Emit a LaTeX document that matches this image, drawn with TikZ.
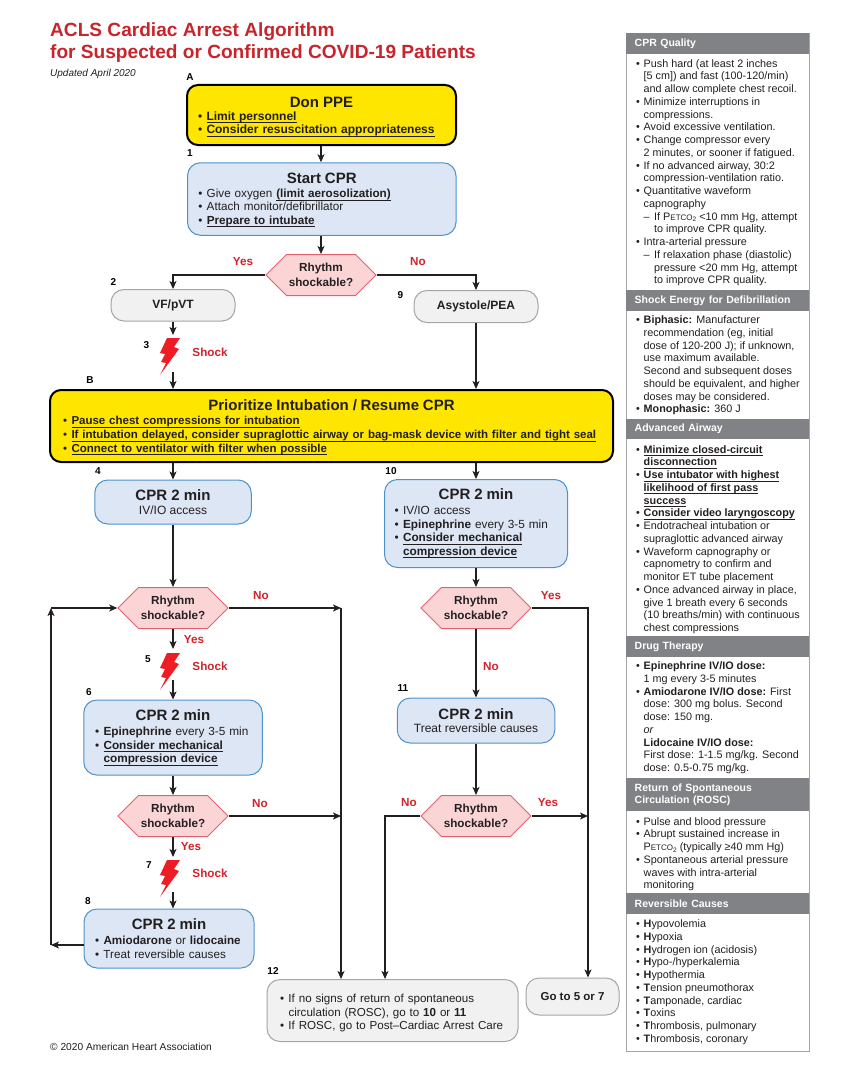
\documentclass[tikz,border=0pt]{standalone}
\usepackage{fontspec}
\setmainfont{Liberation Sans}
\usetikzlibrary{shapes.symbols,arrows.meta}
\definecolor{ink}{HTML}{231F20}
\definecolor{redtxt}{HTML}{D2232A}
\definecolor{ttl}{HTML}{C8242B}
\definecolor{yel}{HTML}{FFE600}
\definecolor{bluef}{HTML}{DCE6F4}
\definecolor{blueb}{HTML}{4F92C9}
\definecolor{pinkf}{HTML}{FBD5D6}
\definecolor{pinkb}{HTML}{E2606F}
\definecolor{grayf}{HTML}{F1F1F1}
\definecolor{grayb}{HTML}{A3A5A7}
\definecolor{sideh}{HTML}{808285}
\definecolor{bolt}{HTML}{EE1C25}
\newcommand{\blt}{\makebox[8.5pt][l]{•}}
\newcommand{\bltw}{\makebox[7.5pt][l]{•}}
\newcommand{\hng}{\hspace*{7.5pt}}
\newcommand{\hngb}{\hspace*{8.5pt}}
\newcommand{\hngc}{\hspace*{18pt}}
\newcommand{\dsh}{\makebox[10.5pt][l]{–}}
\newcommand{\ul}[1]{\leavevmode\setbox0\hbox{\textbf{#1}}\rlap{\raisebox{-2.6pt}{\rule{\wd0}{0.6pt}}}\box0}
\newcommand{\ttlline}[3]{\makebox[#1][c]{\rule{0pt}{#2}\fontsize{15}{17}\selectfont\bfseries #3}}
\newcommand{\petco}{P{\fontsize{8}{8}\selectfont ETCO}\raisebox{-1.5pt}{\fontsize{6.5}{6.5}\selectfont 2}}
\newcommand{\boltshape}[2]{\fill[bolt] (#1+7,#2) -- (#1-6,#2) -- (#1-13,#2+15) -- (#1-8,#2+16) -- (#1-12,#2+24) -- (#1-7,#2+25) -- (#1-13,#2+37) -- (#1+6,#2+11) -- (#1+1,#2+9) -- cycle;}
\tikzset{
  x=1pt,y=-1pt,
  box/.style={rounded corners=13pt,minimum width=#1,inner sep=0pt,text=ink},
  yelbox/.style={box=#1,draw=black,line width=2pt,fill=yel,rounded corners=11pt},
  bluebox/.style={box=#1,draw=blueb,line width=1pt,fill=bluef},
  graybox/.style={box=#1,draw=grayb,line width=1pt,fill=grayf},
  hex/.style={signal,signal to=west and east,signal pointer angle=90,minimum width=110pt,minimum height=41pt,inner sep=0pt,draw=pinkb,line width=1pt,fill=pinkf,align=center,text=ink,font=\fontsize{11.7}{15.5}\selectfont\bfseries},
  tag/.style={font=\fontsize{10}{12}\selectfont\bfseries,text=black,inner sep=0pt},
  rlab/.style={font=\fontsize{11.7}{12}\selectfont\bfseries,text=redtxt,inner sep=0pt},
  conn/.style={draw=ink,line width=1.2pt,-{Stealth[length=8pt,width=7pt,inset=2pt]}},
  ttlf/.style={font=\fontsize{19.1}{22}\selectfont\bfseries,text=ttl,inner sep=0pt,anchor=west},
  sideh/.style={fill=sideh,draw=none,minimum width=183pt,inner sep=0pt,anchor=north west,text=white,font=\fontsize{10.5}{12.8}\selectfont\bfseries,align=left,text width=166pt,inner xsep=8.5pt},
  sidet/.style={inner sep=0pt,anchor=north west,align=left,text=ink,font=\fontsize{10.8}{12.75}\selectfont},
}
\begin{document}
\begin{tikzpicture}
\useasboundingbox (0,0) rectangle (846,1070);
\node[ttlf] (t1) at (50,31.5) {ACLS Cardiac Arrest Algorithm};
\node[ttlf] (t2) at (50,53.5) {for Suspected or Confirmed COVID-19 Patients};
\node[inner sep=0pt,anchor=west,text=ink,font=\fontsize{10}{11}\selectfont\itshape] (upd) at (50,73.5) {Updated April 2020};
\node[inner sep=0pt,anchor=west,text=ink,font=\fontsize{10.2}{11}\selectfont] (copy) at (50,1047) {© 2020 American Heart Association};

% boxes
\node[yelbox=269pt,minimum height=60pt,align=left,text width=247pt,font=\fontsize{12}{13.5}\selectfont] (ppe) at (321.5,115) {\ttlline{247pt}{14pt}{Don PPE}\\[-1pt]\blt\ul{Limit personnel}\\\blt\ul{Consider resuscitation appropriateness}};
\node[bluebox=268.5pt,minimum height=72.5pt,align=left,text width=247pt,font=\fontsize{11.7}{13.2}\selectfont] (cpr1) at (321.75,199) {\ttlline{247pt}{12pt}{Start CPR}\\[1pt]\blt Give oxygen \ul{(limit aerosolization)}\\\blt Attach monitor/defibrillator\\\blt\ul{Prepare to intubate}};
\node[hex] (h1) at (321,275) {Rhythm\\shockable?};
\node[graybox=124pt,minimum height=31.5pt,font=\fontsize{12}{13}\selectfont\bfseries] (vf) at (173,305.25) {VF/pVT};
\node[graybox=124pt,minimum height=32pt,font=\fontsize{12}{13}\selectfont\bfseries] (asy) at (476,306.5) {Asystole/PEA};
\node[yelbox=563pt,minimum height=72pt,align=left,text width=537pt,font=\fontsize{11.5}{13.6}\selectfont] (prio) at (331.5,426) {\ttlline{537pt}{13pt}{Prioritize Intubation / Resume CPR}\\[1pt]\blt\ul{Pause chest compressions for intubation}\\\blt\ul{If intubation delayed, consider supraglottic airway or bag-mask device with filter and tight seal}\\\blt\ul{Connect to ventilator with filter when possible}};
\node[bluebox=156.5pt,minimum height=44pt,align=center,font=\fontsize{12}{13.5}\selectfont] (c4) at (173,502) {{\fontsize{15}{17}\selectfont\bfseries CPR 2 min}\\IV/IO access};
\node[bluebox=183pt,minimum height=88pt,align=left,text width=163pt,font=\fontsize{11.8}{13.6}\selectfont] (c10) at (476,523.5) {\ttlline{163pt}{10pt}{CPR 2 min}\\[1pt]\blt IV/IO access\\\blt\textbf{Epinephrine} every 3-5 min\\\blt\ul{Consider mechanical}\\\hngb\ul{compression device}};
\node[hex] (h2) at (173,608) {Rhythm\\shockable?};
\node[hex] (h3) at (476,608) {Rhythm\\shockable?};
\node[bluebox=178.5pt,minimum height=75pt,align=left,text width=156pt,font=\fontsize{11.8}{13.6}\selectfont] (c6) at (173,737.5) {\ttlline{156pt}{11pt}{CPR 2 min}\\[1pt]\blt\textbf{Epinephrine} every 3-5 min\\\blt\ul{Consider mechanical}\\\hngb\ul{compression device}};
\node[bluebox=157.5pt,minimum height=45pt,align=center,font=\fontsize{12}{13.5}\selectfont] (c11) at (476,720.5) {{\fontsize{15}{17}\selectfont\bfseries CPR 2 min}\\Treat reversible causes};
\node[hex] (h4) at (173,816) {Rhythm\\shockable?};
\node[hex] (h5) at (476,816) {Rhythm\\shockable?};
\node[bluebox=170pt,minimum height=59pt,align=left,text width=148pt,font=\fontsize{11.7}{13.6}\selectfont] (c8) at (169,938.5) {\ttlline{148pt}{11pt}{CPR 2 min}\\[1pt]\blt\textbf{Amiodarone} or \textbf{lidocaine}\\\blt Treat reversible causes};
\node[graybox=251pt,minimum height=62pt,align=left,text width=225pt,font=\fontsize{11.6}{13.6}\selectfont] (end) at (392.5,1010.5) {\rule{0pt}{14pt}\blt If no signs of return of spontaneous\\\hngb circulation (ROSC), go to \textbf{10} or \textbf{11}\\\blt If ROSC, go to Post–Cardiac Arrest Care};
\node[graybox=93pt,minimum height=37pt,font=\fontsize{11.5}{13}\selectfont\bfseries] (goto) at (572.5,996.5) {Go to 5 or 7};

% bolts
\boltshape{173}{338}
\boltshape{173}{653}
\boltshape{173}{860}

% free ends
\coordinate (s3a) at (173,335); \coordinate (s3b) at (173,372);
\coordinate (s5a) at (173,649); \coordinate (s5b) at (173,680);
\coordinate (s7a) at (173,857); \coordinate (s7b) at (173,892);
\coordinate (y1) at (173,275); \coordinate (n1) at (476,275);
\coordinate (lp1) at (51,945); \coordinate (lp2) at (51,608);
\coordinate (r1) at (341,608); \coordinate (r2) at (341,816);
\coordinate (r3) at (588,608); \coordinate (r4) at (588,816);
\coordinate (l5) at (385,816);

% connectors
\draw[conn] (ppe.south -| h1.north) -- (cpr1.north -| h1.north);
\draw[conn] (cpr1.south -| h1.north) -- (h1.north);
\draw[conn] (h1.west) -- (y1) -- (vf.north);
\draw[conn] (h1.east) -- (n1) -- (asy.north);
\draw[conn] (vf.south) -- (s3a);
\draw[conn] (s3b) -- (s3b |- prio.north);
\draw[conn] (asy.south) -- (asy.south |- prio.north);
\draw[conn] (c4.north |- prio.south) -- (c4.north);
\draw[conn] (c10.north |- prio.south) -- (c10.north);
\draw[conn] (c4.south) -- (h2.north);
\draw[conn] (c10.south) -- (h3.north);
\draw[conn] (h2.south) -- (s5a);
\draw[conn] (s5b) -- (c6.north);
\draw[conn] (c6.south) -- (h4.north);
\draw[conn] (h4.south) -- (s7a);
\draw[conn] (s7b) -- (s7b |- c8.north);
\draw[conn] (h3.south) -- (c11.north);
\draw[conn] (c11.south) -- (h5.north);
\draw[conn] (h2.east) -- (r1);
\draw[conn] (h4.east) -- (r2);
\draw[conn] (r1) -- (r1 |- end.north);
\draw[conn] (h3.east) -- (r3) -- (r3 |- goto.north);
\draw[conn] (h5.east) -- (r4);
\draw[conn] (h5.west) -- (l5) -- (l5 |- end.north);
\draw[conn] (c8.west |- lp1) -- (lp1);
\draw[conn] (lp1) -- (lp2);
\draw[conn] (lp2) -- (h2.west);

% tags
\node[tag] (la) at (190,77) {A};
\node[tag] (l1) at (190,153) {1};
\node[tag] (l2) at (113.5,282) {2};
\node[tag] (l3) at (146.5,345) {3};
\node[tag] (l9) at (400.5,295) {9};
\node[tag] (lb) at (90,380) {B};
\node[tag] (l4) at (98,471) {4};
\node[tag] (l10) at (391,471) {10};
\node[tag] (l5t) at (148,659) {5};
\node[tag] (l6) at (89,692) {6};
\node[tag] (l7) at (149,865) {7};
\node[tag] (l8) at (88,901) {8};
\node[tag] (l11) at (403,688) {11};
\node[tag] (l12) at (273,971) {12};

% red labels
\node[rlab] (a1) at (243,262) {Yes};
\node[rlab] (a2) at (418,262) {No};
\node[rlab] (a3) at (210,352) {Shock};
\node[rlab] (a4) at (261,596) {No};
\node[rlab] (a5) at (551,596) {Yes};
\node[rlab] (a6) at (194,640) {Yes};
\node[rlab] (a7) at (210,666) {Shock};
\node[rlab] (a8) at (491,667) {No};
\node[rlab] (a9) at (260,804) {No};
\node[rlab] (a10) at (409,803) {No};
\node[rlab] (a11) at (548,803) {Yes};
\node[rlab] (a12) at (191,847) {Yes};
\node[rlab] (a13) at (210,873) {Shock};

% sidebar
\node[draw=grayb,line width=1pt,fill=white,minimum width=183pt,minimum height=1017.5pt,anchor=north west,inner sep=0pt] (panel) at (626,33) {};
\node[sideh,minimum height=20.5pt] (hA) at (626,33) {CPR Quality};
\node[sidet] (bA) at (636,59) {\bltw Push hard (at least 2 inches\\\hng{}[5 cm]) and fast (100-120/min)\\\hng and allow complete chest recoil.\\\bltw Minimize interruptions in\\\hng compressions.\\\bltw Avoid excessive ventilation.\\\bltw Change compressor every\\\hng 2 minutes, or sooner if fatigued.\\\bltw If no advanced airway, 30:2\\\hng compression-ventilation ratio.\\\bltw Quantitative waveform\\\hng capnography\\\hng\dsh If \petco{} <10 mm Hg, attempt\\\hngc to improve CPR quality.\\\bltw Intra-arterial pressure\\\hng\dsh If relaxation phase (diastolic)\\\hngc pressure <20 mm Hg, attempt\\\hngc to improve CPR quality.};
\node[sideh,minimum height=20.5pt] (hB) at (626,290) {Shock Energy for Defibrillation};
\node[sidet] (bB) at (636,315.5) {\bltw\textbf{Biphasic:} Manufacturer\\\hng recommendation (eg, initial\\\hng dose of 120-200 J); if unknown,\\\hng use maximum available.\\\hng Second and subsequent doses\\\hng should be equivalent, and higher\\\hng doses may be considered.\\\bltw\textbf{Monophasic:} 360 J};
\node[sideh,minimum height=20pt] (hC) at (626,418.5) {Advanced Airway};
\node[sidet] (bC) at (636,445) {\bltw\ul{Minimize closed-circuit}\\\hng\ul{disconnection}\\\bltw\ul{Use intubator with highest}\\\hng\ul{likelihood of first pass}\\\hng\ul{success}\\\bltw\ul{Consider video laryngoscopy}\\\bltw Endotracheal intubation or\\\hng supraglottic advanced airway\\\bltw Waveform capnography or\\\hng capnometry to confirm and\\\hng monitor ET tube placement\\\bltw Once advanced airway in place,\\\hng give 1 breath every 6 seconds\\\hng (10 breaths/min) with continuous\\\hng chest compressions};
\node[sideh,minimum height=20.5pt] (hD) at (626,636) {Drug Therapy};
\node[sidet] (bD) at (636,661.5) {\bltw\textbf{Epinephrine IV/IO dose:}\\\hng 1 mg every 3-5 minutes\\\bltw\textbf{Amiodarone IV/IO dose:} First\\\hng dose: 300 mg bolus. Second\\\hng dose: 150 mg.\\\hng\textit{or}\\\hng\textbf{Lidocaine IV/IO dose:}\\\hng First dose: 1-1.5 mg/kg. Second\\\hng dose: 0.5-0.75 mg/kg.};
\node[sideh,minimum height=33pt] (hE) at (626,778) {Return of Spontaneous\\Circulation (ROSC)};
\node[sidet] (bE) at (636,817) {\bltw Pulse and blood pressure\\\bltw Abrupt sustained increase in\\\hng\petco{} (typically ≥40 mm Hg)\\\bltw Spontaneous arterial pressure\\\hng waves with intra-arterial\\\hng monitoring};
\node[sideh,minimum height=21pt] (hF) at (626,893) {Reversible Causes};
\node[sidet] (bF) at (636,919.5) {\bltw\textbf{H}ypovolemia\\\bltw\textbf{H}ypoxia\\\bltw\textbf{H}ydrogen ion (acidosis)\\\bltw\textbf{H}ypo-/hyperkalemia\\\bltw\textbf{H}ypothermia\\\bltw\textbf{T}ension pneumothorax\\\bltw\textbf{T}amponade, cardiac\\\bltw\textbf{T}oxins\\\bltw\textbf{T}hrombosis, pulmonary\\\bltw\textbf{T}hrombosis, coronary};
\end{tikzpicture}
\end{document}
